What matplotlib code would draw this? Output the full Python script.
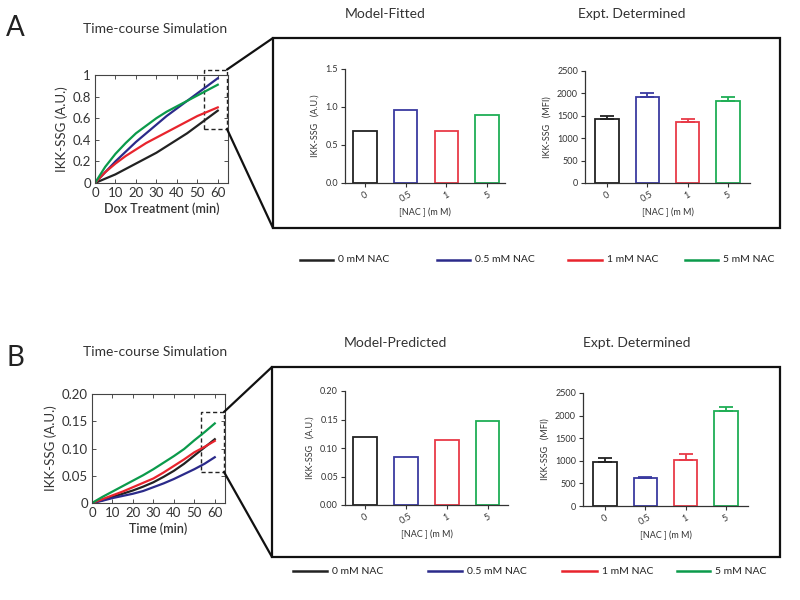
import matplotlib
matplotlib.use("Agg")
import matplotlib.pyplot as plt
from matplotlib.patches import Rectangle, ConnectionPatch
from matplotlib.lines import Line2D

plt.rcParams['font.family'] = ['Lato', 'DejaVu Sans']

# ---------------- data ----------------
time_min = [0, 5, 10, 15, 20, 25, 30, 35, 40, 45, 50, 55, 60]
conditions = ["0 mM NAC", "0.5 mM NAC", "1 mM NAC", "5 mM NAC"]
nac_labels = ["0", "0.5", "1", "5"]

# Panel A time course
a_black = [0, 0.04, 0.08, 0.13, 0.18, 0.23, 0.28, 0.34, 0.40, 0.46, 0.53, 0.60, 0.67]
a_blue = [0, 0.10, 0.20, 0.29, 0.38, 0.46, 0.54, 0.62, 0.69, 0.76, 0.83, 0.90, 0.97]
a_red = [0, 0.10, 0.18, 0.25, 0.31, 0.37, 0.42, 0.47, 0.52, 0.57, 0.62, 0.66, 0.70]
a_green = [0, 0.15, 0.27, 0.37, 0.46, 0.53, 0.60, 0.66, 0.71, 0.76, 0.81, 0.86, 0.91]

# Panel B time course
b_black = [0, 0.005, 0.011, 0.017, 0.023, 0.030, 0.038, 0.048, 0.059, 0.072, 0.087, 0.102, 0.117]
b_blue = [0, 0.004, 0.009, 0.013, 0.017, 0.022, 0.029, 0.036, 0.044, 0.053, 0.062, 0.072, 0.084]
b_red = [0, 0.007, 0.014, 0.021, 0.029, 0.037, 0.045, 0.056, 0.068, 0.080, 0.093, 0.103, 0.114]
b_green = [0, 0.011, 0.021, 0.031, 0.041, 0.051, 0.062, 0.074, 0.086, 0.099, 0.115, 0.130, 0.146]

# Bars
a_model = [0.68, 0.96, 0.68, 0.90]
a_expt = [1420, 1930, 1360, 1840]
a_expt_err = [70, 90, 60, 85]
b_model = [0.119, 0.085, 0.114, 0.148]
b_expt = [980, 610, 1010, 2100]
b_expt_err = [85, 30, 150, 100]

line_colors = ["#222222", "#2b2a8a", "#e8242d", "#0b9a4b"]
bar_colors = ["#222222", "#3a3aa0", "#e83a48", "#1fae55"]

W, H = 800, 600
fig = plt.figure(figsize=(8, 6), dpi=100)


def rect(l, t, r, b):
    return [l / W, 1 - b / H, (r - l) / W, (b - t) / H]


def fx(x):
    return x / W


def fy(y):
    return 1 - y / H


tick_col = "#333333"


def line_panel(box, series, ylim, yticks, ylabels, xlabel, dbox):
    ax = fig.add_axes(rect(*box))
    for s, c in zip(series, line_colors):
        ax.plot(time_min, s, color=c, lw=1.6)
    ax.set_xlim(0, 65)
    ax.set_ylim(*ylim)
    ax.set_xticks([0, 10, 20, 30, 40, 50, 60])
    ax.set_yticks(yticks)
    ax.set_yticklabels(ylabels)
    ax.tick_params(direction="in", top=True, right=True, labelsize=9.5,
                   colors=tick_col, length=3, width=0.6, pad=3)
    for sp in ax.spines.values():
        sp.set_linewidth(0.8)
        sp.set_color("#444444")
    ax.set_xlabel(xlabel, fontsize=9, color="#333333", fontweight="semibold", labelpad=2)
    ax.set_ylabel("IKK-SSG (A.U.)", fontsize=9.5, color="#333333", labelpad=3)
    x0, x1, y0, y1 = dbox
    ax.add_patch(Rectangle((x0, y0), x1 - x0, y1 - y0, fill=False, ls=(0, (3, 2)),
                           lw=1.0, ec="#222222", clip_on=False))
    return ax


def bar_panel(box, vals, err, xlim, ylim, yticks, ylabels, ylabel):
    ax = fig.add_axes(rect(*box))
    x = list(range(len(vals)))
    ax.bar(x, vals, width=0.58, color="white", edgecolor=bar_colors, linewidth=1.3)
    if err is not None:
        for xi, v, e, c in zip(x, vals, err, bar_colors):
            ax.errorbar([xi], [v], yerr=[[0], [e]], fmt="none", ecolor=c,
                        elinewidth=1.3, capsize=5, capthick=1.3)
    ax.set_xlim(*xlim)
    ax.set_ylim(*ylim)
    ax.set_xticks(x)
    ax.set_xticklabels(nac_labels, rotation=30)
    ax.set_yticks(yticks)
    ax.set_yticklabels(ylabels)
    ax.spines["top"].set_visible(False)
    ax.spines["right"].set_visible(False)
    for sp in ("left", "bottom"):
        ax.spines[sp].set_linewidth(0.9)
        ax.spines[sp].set_color("#333333")
    ax.tick_params(labelsize=6.5, colors="#333333", length=3, width=0.8, pad=2)
    ax.set_ylabel(ylabel, fontsize=6.5, color="#333333", labelpad=4)
    ax.set_xlabel("[NAC ] (m M)", fontsize=6.5, color="#333333", labelpad=3)
    return ax


def legend_row(y, xs):
    for (xa, xb), c, lab in zip(xs, line_colors, conditions):
        fig.add_artist(Line2D([fx(xa), fx(xb)], [fy(y), fy(y)], color=c, lw=1.8,
                              transform=fig.transFigure))
        fig.text(fx(xb + 5), fy(y), lab, fontsize=7.5, color="#222222",
                 va="center", ha="left")


def zoom_links(ax, dbox, big):
    x0, x1, y0, y1 = dbox
    l, t, r, b = big
    fig.add_artist(Rectangle((fx(l), fy(b)), fx(r) - fx(l), fy(t) - fy(b), fill=False,
                             lw=1.6, ec="#111111", transform=fig.transFigure))
    for (dx, dy), (px, py) in [((x1, y1), (l, t)), ((x1, y0), (l, b))]:
        con = ConnectionPatch(xyA=(dx, dy), coordsA=ax.transData,
                              xyB=(fx(px), fy(py)), coordsB=fig.transFigure,
                              color="#111111", lw=1.6)
        fig.add_artist(con)


# ---------------- Panel A ----------------
fig.text(fx(15), fy(28), "A", fontsize=20, color="#222222", va="center", ha="center")
fig.text(fx(155), fy(29), "Time-course Simulation", fontsize=10, color="#333333",
         va="center", ha="center")
dboxA = (53.5, 64.5, 0.5, 1.05)
axA = line_panel((95, 75, 228, 183), [a_black, a_blue, a_red, a_green], (0, 1),
                 [0, 0.2, 0.4, 0.6, 0.8, 1.0], ["0", "0.2", "0.4", "0.6", "0.8", "1"],
                 "Dox Treatment (min)", dboxA)
zoom_links(axA, dboxA, (273, 38, 780, 228))
fig.text(fx(385), fy(14), "Model-Fitted", fontsize=10, color="#333333", va="center", ha="center")
fig.text(fx(632), fy(14), "Expt. Determined", fontsize=10, color="#333333", va="center", ha="center")
bar_panel((345, 69, 505, 183), a_model, None, (-0.49, 3.44), (0, 1.5),
          [0, 0.5, 1.0, 1.5], ["0.0", "0.5", "1.0", "1.5"], "IKK-SSG   (A.U.)")
bar_panel((585, 71, 750, 183), a_expt, a_expt_err, (-0.55, 3.55), (0, 2500),
          [0, 500, 1000, 1500, 2000, 2500], ["0", "500", "1000", "1500", "2000", "2500"],
          "IKK-SSG   (MFI)")
legend_row(260, [(300, 333), (437, 470), (568, 602), (685, 718)])

# ---------------- Panel B ----------------
fig.text(fx(15), fy(358), "B", fontsize=20, color="#222222", va="center", ha="center")
fig.text(fx(155), fy(352), "Time-course Simulation", fontsize=10, color="#333333",
         va="center", ha="center")
dboxB = (53.5, 64.5, 0.057, 0.167)
axB = line_panel((92, 394, 225, 503), [b_black, b_blue, b_red, b_green], (0, 0.2),
                 [0, 0.05, 0.10, 0.15, 0.20], ["0", "0.05", "0.10", "0.15", "0.20"],
                 "Time (min)", dboxB)
zoom_links(axB, dboxB, (272, 367, 780, 557))
fig.text(fx(395), fy(343), "Model-Predicted", fontsize=10, color="#333333", va="center", ha="center")
fig.text(fx(637), fy(343), "Expt. Determined", fontsize=10, color="#333333", va="center", ha="center")
bar_panel((345, 391, 508, 505), b_model, None, (-0.49, 3.5), (0, 0.20),
          [0, 0.05, 0.10, 0.15, 0.20], ["0.00", "0.05", "0.10", "0.15", "0.20"],
          "IKK-SSG   (A.U.)")
bar_panel((583, 393, 748, 506), b_expt, b_expt_err, (-0.55, 3.55), (0, 2500),
          [0, 500, 1000, 1500, 2000, 2500], ["0", "500", "1000", "1500", "2000", "2500"],
          "IKK-SSG   (MFI)")
legend_row(571, [(293, 327), (428, 462), (562, 597), (677, 710)])

fig.savefig("out.png", dpi=100, facecolor="white")
